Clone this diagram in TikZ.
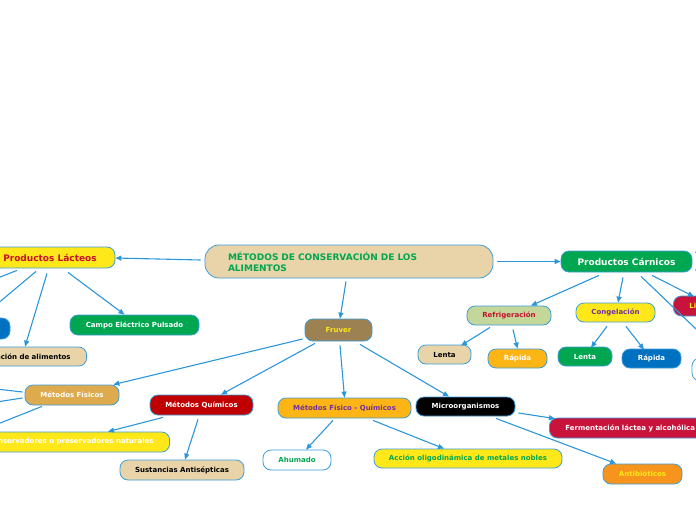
\documentclass[tikz,border=0pt]{standalone}
\usepackage{fontspec}
\setmainfont{DejaVu Sans}
\usetikzlibrary{arrows.meta,calc}
\definecolor{lnk}{HTML}{2C96DB}
\definecolor{bord}{HTML}{3C9DDA}
\definecolor{tan}{HTML}{E8D4A8}
\definecolor{grn}{HTML}{00A650}
\definecolor{ylw}{HTML}{FFE81A}
\definecolor{crim}{HTML}{C8102E}
\definecolor{brn}{HTML}{9C8152}
\definecolor{gold}{HTML}{DDAA4E}
\definecolor{dred}{HTML}{C00000}
\definecolor{orng}{HTML}{FDB515}
\definecolor{purp}{HTML}{7030A0}
\definecolor{org2}{HTML}{F7941D}
\definecolor{blu}{HTML}{0070C0}
\definecolor{olv}{HTML}{C4D79B}
\definecolor{ferm}{HTML}{C8143C}
\tikzset{
  box/.style={draw=bord, line width=0.8pt, rounded corners=8pt, inner sep=0pt,
    font=\bfseries\fontsize{7}{8}\selectfont, text=white},
  bigbox/.style={box, font=\bfseries\fontsize{9}{11}\selectfont},
  link/.style={draw=lnk, line width=1.1pt, -{Triangle[length=6pt,width=5pt]}},
  freelink/.style={draw=lnk, line width=1.1pt},
}
\begin{document}
\begin{tikzpicture}[x=1pt,y=-1pt]
\useasboundingbox (0,0) rectangle (696,520);
\clip (0,0) rectangle (696,520);
% central node
\node[bigbox, rounded corners=14pt, fill=tan, text=grn, minimum width=288pt, minimum height=33pt,
  text width=242pt, align=left] (main) at (349,261.5) {MÉTODOS DE CONSERVACIÓN DE LOS\\ALIMENTOS};
% main branches
\node[bigbox, fill=ylw, text=crim, minimum width=130pt, minimum height=21pt] (lacteos) at (50,257.5) {Productos Lácteos};
\node[bigbox, fill=grn, minimum width=131pt, minimum height=21pt] (carnicos) at (626.5,261.5) {Productos Cárnicos};
\node[box, fill=brn, text=ylw, minimum width=67pt, minimum height=22pt] (fruver) at (338.5,330) {Fruver};
% lacteos children
\node[box, fill=grn, minimum width=129pt, minimum height=20pt] (campo) at (134.5,325) {Campo Eléctrico Pulsado};
\node[box, fill=tan, text=black, anchor=east, inner xsep=16pt, minimum height=19pt] (irrad) at (87,356.5) {Irradiación de alimentos};
\node[box, fill=blu, minimum width=50pt, minimum height=21pt] (bluel) at (-15,328.5) {};
\coordinate (offl) at (-30,289);
% fruver children
\node[box, fill=gold, minimum width=94pt, minimum height=20pt] (fisicos) at (72,395) {Métodos Físicos};
\node[box, fill=dred, minimum width=103pt, minimum height=20pt] (quimicos) at (201.5,405) {Métodos Químicos};
\node[box, fill=orng, text=purp, minimum width=133pt, minimum height=20pt] (fq) at (344.5,408) {Métodos Físico - Químicos};
\node[box, fill=black, minimum width=99pt, minimum height=19pt] (micro) at (465.5,406.5) {Microorganismos};
% fisicos free ends
\coordinate (offf1) at (-30,386);
\coordinate (offf2) at (-30,406);
\coordinate (offf3) at (-30,435);
% quimicos children
\node[box, fill=ylw, anchor=east, inner xsep=16pt, minimum height=20pt] (conserv) at (170,442) {Conservadores o preservadores naturales};
\node[box, fill=tan, text=black, minimum width=124pt, minimum height=20pt] (sust) at (182,470) {Sustancias Antisépticas};
% fq children
\node[box, fill=white, text=grn, minimum width=68pt, minimum height=20pt] (ahum) at (297,460) {Ahumado};
\node[box, fill=ylw, text=grn, minimum width=188pt, minimum height=19pt] (accion) at (468,458.5) {Acción oligodinámica de metales nobles};
% micro children
\node[box, fill=ferm, anchor=west, inner xsep=16pt, minimum height=20pt] (fermen) at (549,428) {Fermentación láctea y alcohólica};
\node[box, fill=org2, text=ylw, minimum width=79pt, minimum height=20pt] (antib) at (642.5,474) {Antibióticos};
% carnicos children
\node[box, fill=olv, text=crim, minimum width=84pt, minimum height=19pt] (refrig) at (509,315.5) {Refrigeración};
\node[box, fill=ylw, text=purp, minimum width=79pt, minimum height=19pt] (congel) at (615.5,312.5) {Congelación};
\node[box, fill=ferm, text=ylw, anchor=west, inner xsep=16pt, minimum height=20pt] (liof) at (673,306) {Liofilización};
\node[box, fill=white, minimum width=68pt, minimum height=23pt] (whiten) at (726,369.5) {};
\coordinate (offc1) at (715,238);
\coordinate (offc2) at (715,285);
\node[box, fill=tan, text=black, minimum width=53pt, minimum height=19pt] (lenta1) at (444.5,354.5) {Lenta};
\node[box, fill=orng, minimum width=59pt, minimum height=19pt] (rapida1) at (517.5,358.5) {Rápida};
\node[box, fill=grn, minimum width=54pt, minimum height=19pt] (lenta2) at (585,356.5) {Lenta};
\node[box, fill=blu, minimum width=59pt, minimum height=19pt] (rapida2) at (651.5,358.5) {Rápida};
% connectors
\draw[link] ([shift={(-4,-1.5)}]main.west) -- ([shift={(0,0.5)}]lacteos.east);
\draw[link] ([shift={(4,0)}]main.east) -- (carnicos.west);
\draw[link] ([shift={(-3,3)}]main.south) -- ([shift={(1.5,0)}]fruver.north);
\draw[link] ([shift={(18,4)}]lacteos.south) -- ([shift={(-10,0)}]campo.north);
\draw[link] ([shift={(-3,5)}]lacteos.south) -- ([shift={(-62,0)}]irrad.north east);
\draw[link] ([shift={(-14,3)}]lacteos.south) -- ([shift={(-4,0)}]bluel.north);
\draw[freelink] ([shift={(-33,2)}]lacteos.south) -- (offl);
\draw[link] ([shift={(-2,9)}]fruver.west) -- ([shift={(-6,0)}]fisicos.north east);
\draw[link] ([shift={(-23.5,2)}]fruver.south) -- ([shift={(19.5,0)}]quimicos.north);
\draw[link] ([shift={(1.5,4)}]fruver.south) -- (fq.north);
\draw[link] ([shift={(21.5,3)}]fruver.south) -- ([shift={(-16.5,0)}]micro.north);
\draw[freelink] ([shift={(-2,-3)}]fisicos.west) -- (offf1);
\draw[freelink] ([shift={(-2,3)}]fisicos.west) -- (offf2);
\draw[freelink] ([shift={(-30,1)}]fisicos.south) -- (offf3);
\draw[link] ([shift={(-38.5,2)}]quimicos.south) -- ([shift={(-62,0)}]conserv.north east);
\draw[link] ([shift={(-3.5,4)}]quimicos.south) -- ([shift={(3,0)}]sust.north);
\draw[link] ([shift={(-11.5,2)}]fq.south) -- ([shift={(9,0)}]ahum.north);
\draw[link] ([shift={(28.5,2)}]fq.south) -- ([shift={(-24,0)}]accion.north);
\draw[link] ([shift={(3,6.5)}]micro.east) -- ([shift={(6,1)}]fermen.north west);
\draw[link] ([shift={(30.5,2)}]micro.south) -- ([shift={(-26.5,0)}]antib.north);
\draw[link] ([shift={(-27.5,3)}]carnicos.south) -- ([shift={(22,0)}]refrig.north);
\draw[link] ([shift={(-3.5,5)}]carnicos.south) -- ([shift={(2.5,0)}]congel.north);
\draw[link] ([shift={(25.5,3)}]carnicos.south) -- ([shift={(21,1)}]liof.north west);
\draw[link] ([shift={(14.5,4)}]carnicos.south) -- (whiten.north);
\draw[freelink] ([shift={(3,-9)}]carnicos.east) -- (offc1);
\draw[freelink] ([shift={(3,8)}]carnicos.east) -- (offc2);
\draw[link] ([shift={(-19,2)}]refrig.south) -- ([shift={(16.5,1)}]lenta1.north);
\draw[link] ([shift={(4,4)}]refrig.south) -- (rapida1.north);
\draw[link] ([shift={(-8.5,4)}]congel.south) -- ([shift={(6,1)}]lenta2.north);
\draw[link] ([shift={(10.5,4)}]congel.south) -- ([shift={(-7.5,1)}]rapida2.north);
\end{tikzpicture}
\end{document}
